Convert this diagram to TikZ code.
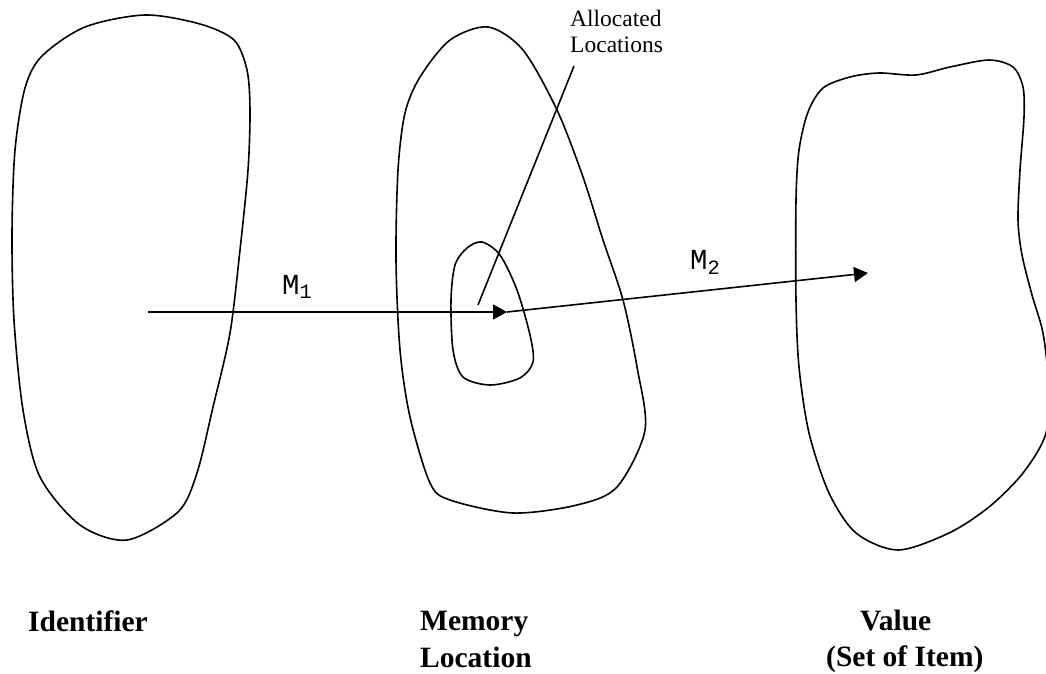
\documentclass[tikz,border=0pt]{standalone}
\usepackage{fontspec}
\setmainfont{Liberation Serif}
\newfontfamily\monofont{Liberation Mono}
\usepackage{tikz}
\usetikzlibrary{positioning, arrows.meta}

\begin{document}
\begin{tikzpicture}[
    x=1pt, y=-1pt,
    blob/.style={draw, line width=1.6pt},
    map/.style={draw, line width=1.6pt, -{Triangle[length=14pt, width=15pt]}},
    title/.style={anchor=base west, inner sep=0pt, font=\fontsize{29.5}{34}\selectfont\bfseries},
    maplabel/.style={anchor=base west, inner sep=0pt, font=\fontsize{29}{34}\selectfont\monofont},
    note/.style={anchor=base west, inner sep=0pt, font=\fontsize{23.5}{26}\selectfont}
]
\useasboundingbox (0,0) rectangle (1046,674);

\draw[blob] plot[smooth cycle] coordinates {(145,15) (200,24) (234,40) (247,70) (250,110) (248,170) (240,250) (230,333) (213,407) (197,473) (178,512) (127,540) (80,525) (40,477) (23,410) (14,320) (12,233) (15,150) (25,88) (42,56) (85,27)};
\draw[blob] plot[smooth cycle] coordinates {(488,27) (523,50) (557,110) (583,177) (603,240) (623,300) (637,367) (645,430) (617,487) (577,505) (513,513) (450,500) (430,483) (410,417) (400,350) (396,260) (398,170) (405,113) (420,77) (450,40)};
\draw[blob] plot[smooth cycle] coordinates {(482,242) (500,255) (517,290) (530,335) (533,362) (520,378) (490,385) (463,377) (453,350) (451,300) (455,265) (467,248)};
\draw[blob] plot[smooth cycle] coordinates {(823,88) (850,77) (879,73) (916,75) (950,67) (989,60) (1013,67) (1023,87) (1024,117) (1020,170) (1018,220) (1022,255) (1032,295) (1043,333) (1048,380) (1046,433) (1023,473) (989,507) (949,533) (898,550) (856,533) (829,493) (809,433) (799,367) (796,300) (796,200) (799,150) (808,112)};

\coordinate (ident) at (148,312);
\coordinate (cell) at (507,312);
\coordinate (item) at (868,273);
\coordinate (pick) at (478,305);

\node (alloc) [note] at (570,27) {Allocated};
\node (alloc2) [note] at (570,53) {Locations};
\coordinate (altop) at (574,66);
\draw[blob] (altop) -- (pick);

\draw[map] (ident) -- (cell);
\draw[map] (cell) -- (item);
\node (m1) [maplabel] at (282,294) {M\textsubscript{1}};
\node (m2) [maplabel] at (690,269) {M\textsubscript{2}};

\node (id) [title] at (28,631) {Identifier};
\node (mem) [title] at (420,630) {Memory};
\node (mem2) [title] at (420,667) {Location};
\node (val) [title] at (860,630) {Value};
\node (val2) [title] at (826,666) {(Set of Item)};
\end{tikzpicture}
\end{document}
